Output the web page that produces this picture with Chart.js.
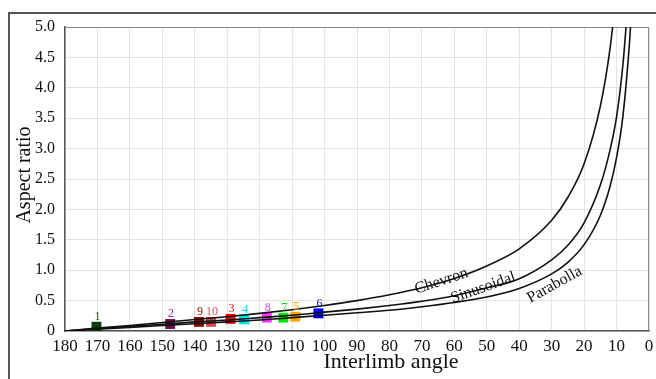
<!DOCTYPE html>
<html>
<head>
<meta charset="utf-8">
<script src="https://cdn.jsdelivr.net/npm/chart.js@4.4.1/dist/chart.umd.min.js"></script>
<style>
  body { margin: 0; background: #fff; }
  #wrap { position: relative; width: 656px; height: 379px; overflow: hidden; }
  #frame { position: absolute; left: 8px; top: 12px; width: 700px; height: 420px;
           border-left: 2px solid #555; border-top: 2px solid #555; }
  #grafico { position: absolute; left: 0; top: 0; }
</style>
</head>
<body>
<div id="wrap">
  <div id="frame"></div>
  <canvas id="grafico" width="656" height="379"></canvas>
</div>
<script>
// curvas teoricas
const chevronAngle = [180, 170, 160, 150, 140, 130, 120, 110, 100, 90, 80, 70, 60, 50, 40, 30, 25, 20, 15, 12, 10];
const chevronRatio = [0, 0.05, 0.09, 0.14, 0.19, 0.235, 0.29, 0.35, 0.42, 0.50, 0.595, 0.71, 0.865, 1.07, 1.35, 1.82, 2.2, 2.75, 3.7, 4.65, 5.6];

const sinusAngle = [180, 170, 160, 150, 140, 130, 120, 110, 100, 90, 80, 70, 60, 50, 40, 30, 25, 20, 15, 12, 10, 8, 7];
const sinusRatio = [0, 0.04, 0.08, 0.11, 0.15, 0.18, 0.22, 0.26, 0.31, 0.36, 0.42, 0.49, 0.58, 0.71, 0.86, 1.17, 1.41, 1.78, 2.4, 2.98, 3.52, 4.4, 5.05];

const paraAngle = [180, 170, 160, 150, 140, 130, 120, 110, 100, 90, 80, 70, 60, 50, 40, 30, 25, 20, 15, 12, 10, 8, 6, 5];
const paraRatio = [0, 0.03, 0.06, 0.09, 0.12, 0.15, 0.18, 0.22, 0.26, 0.30, 0.34, 0.40, 0.47, 0.56, 0.70, 0.94, 1.13, 1.42, 1.90, 2.38, 2.85, 3.55, 4.75, 5.6];

// dobras medidas
const foldIds    = ['1', '2', '9', '10', '3', '4', '8', '7', '5', '6'];
const foldAngle  = [170.3, 147.6, 138.7, 135, 129, 124.8, 117.8, 112.7, 109, 101.9];
const foldRatio  = [0.07, 0.115, 0.15, 0.15, 0.20, 0.19, 0.22, 0.22, 0.235, 0.29];
const foldColors = ['#0b3d0b', '#6a0c4e', '#990000', '#d94545', '#ff0000', '#00e5ee', '#ff33ff', '#00e600', '#ffa500', '#0000ff'];
const foldLabelColors = ['#1a5a1a', '#8a2a8a', '#b00000', '#e05050', '#ff0000', '#00d8ff', '#ff40ff', '#00dd00', '#ffa500', '#0000ff'];

// rotulos das curvas
const curveNames = ['Chevron', 'Sinusoidal', 'Parabolla'];
const curveLabelAngle = [64.0, 51.1, 29.1];
const curveLabelRatio = [0.82, 0.71, 0.76];
const curveLabelRot = [-18, -19.5, -29];

const yTicks = [0, 0.5, 1.0, 1.5, 2.0, 2.5, 3.0, 3.5, 4.0, 4.5, 5.0];

const serif = '"Liberation Serif", "DejaVu Serif", serif';

function pares(xs, ys) {
    return xs.map((x, i) => ({ x: x, y: ys[i] }));
}

function curva(label, xs, ys) {
    return {
        label: label,
        data: pares(xs, ys),
        showLine: true,
        borderColor: '#111',
        borderWidth: 1.6,
        pointRadius: 0,
        cubicInterpolationMode: 'monotone',
        fill: false
    };
}

// textos extras: titulos dos eixos, nomes das curvas, numeros das dobras
const textos = {
    id: 'textos',
    beforeDatasetsDraw(chart) {
        const a = chart.chartArea;
        const ctx = chart.ctx;
        ctx.save();
        ctx.strokeStyle = '#888';
        ctx.lineWidth = 1;
        ctx.beginPath();
        ctx.moveTo(a.left, a.top + 0.5);
        ctx.lineTo(a.right - 0.5, a.top + 0.5);
        ctx.lineTo(a.right - 0.5, a.bottom);
        ctx.stroke();
        ctx.restore();
    },
    afterDraw(chart) {
        const ctx = chart.ctx;
        const xs = chart.scales.x, ys = chart.scales.y;
        ctx.save();
        ctx.fillStyle = '#111';
        ctx.textAlign = 'center';
        ctx.textBaseline = 'middle';

        ctx.font = '22px ' + serif;
        ctx.fillText('Interlimb angle', 391, 362);

        ctx.font = '20px ' + serif;
        ctx.save();
        ctx.translate(25, 175);
        ctx.rotate(-Math.PI / 2);
        ctx.fillText('Aspect ratio', 0, 0);
        ctx.restore();

        ctx.font = '16px ' + serif;
        curveNames.forEach((n, i) => {
            ctx.save();
            ctx.translate(xs.getPixelForValue(curveLabelAngle[i]), ys.getPixelForValue(curveLabelRatio[i]));
            ctx.rotate(curveLabelRot[i] * Math.PI / 180);
            ctx.fillText(n, 0, 0);
            ctx.restore();
        });

        const meta = chart.getDatasetMeta(3);
        ctx.font = '12px ' + serif;
        meta.data.forEach((p, i) => {
            ctx.fillStyle = foldLabelColors[i];
            ctx.fillText(foldIds[i], p.x + 1, p.y - 10);
        });
        ctx.restore();
    }
};

const ctx = document.getElementById('grafico').getContext('2d');

let grafico = new Chart(ctx, {
    type: 'scatter',
    data: {
        datasets: [
            curva('Chevron', chevronAngle, chevronRatio),
            curva('Sinusoidal', sinusAngle, sinusRatio),
            curva('Parabolla', paraAngle, paraRatio),
            {
                label: 'Folds',
                data: pares(foldAngle, foldRatio),
                pointStyle: 'rect',
                pointRadius: 7,
                pointBackgroundColor: foldColors,
                pointBorderColor: foldColors,
                pointBorderWidth: 0,
                showLine: false
            }
        ]
    },
    options: {
        responsive: false,
        animation: false,
        layout: { padding: { top: 27, right: 4, left: 0, bottom: 0 } },
        plugins: {
            legend: { display: false },
            tooltip: { enabled: false }
        },
        scales: {
            x: {
                type: 'linear',
                min: 0,
                max: 180,
                reverse: true,
                afterFit: s => { s.height = 48; s.paddingLeft = 0; s.paddingRight = 0; },
                grid: { color: '#e3e3e3', drawTicks: false },
                border: { color: '#555', width: 1.5 },
                ticks: {
                    stepSize: 10,
                    autoSkip: false,
                    maxRotation: 0,
                    padding: 5,
                    color: '#111',
                    font: { family: serif, size: 17 }
                }
            },
            y: {
                min: 0,
                max: 5,
                afterFit: s => { s.width = 65; },
                afterBuildTicks: s => { s.ticks = yTicks.map(v => ({ value: v })); },
                grid: { color: '#e3e3e3', drawTicks: false },
                border: { color: '#555', width: 1.5 },
                ticks: {
                    padding: 10,
                    color: '#111',
                    font: { family: serif, size: 16 },
                    callback: v => v === 0 ? '0' : v.toFixed(1)
                }
            }
        }
    },
    plugins: [textos]
});
</script>
</body>
</html>
